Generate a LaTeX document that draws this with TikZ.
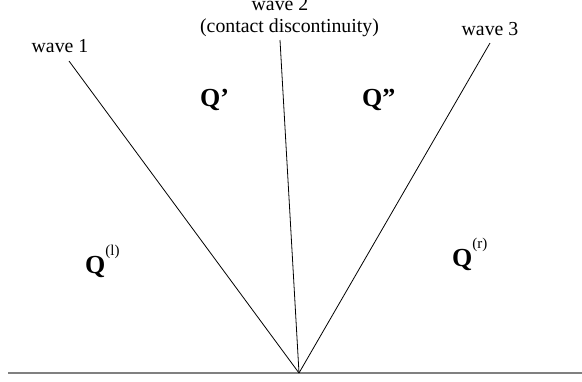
\documentclass[tikz,border=0pt]{standalone}
\usepackage{fontspec}
\setmainfont{Liberation Serif}
\begin{document}
\begin{tikzpicture}[x=1pt,y=-1pt,
  wave/.style={line width=0.8pt,black},
  lbl/.style={inner sep=0pt,anchor=base,font=\fontsize{19.8}{22}\selectfont},
  state/.style={inner sep=0pt,anchor=base west,font=\fontsize{26}{30}\selectfont\bfseries}]
\useasboundingbox (0,0) rectangle (582,381);
\coordinate (o) at (299,373);
\coordinate (b0) at (8,373);
\coordinate (b1) at (582,373);
\coordinate (w1) at (69,61);
\coordinate (w2) at (280,40);
\coordinate (w3) at (490,43);
\draw[gray,line width=1.2pt] (b0) -- (b1);
\draw[wave] (o) -- (w1);
\draw[wave] (o) -- (w2);
\draw[wave] (o) -- (w3);
\node[lbl] (l1) at (60,52) {wave 1};
\node[lbl] (l2a) at (280,10) {wave 2};
\node[lbl] (l2b) at (289.5,32) {(contact discontinuity)};
\node[lbl] (l3) at (490,35) {wave 3};
\node[state] (q1) at (200,106) {Q’};
\node[state] (q2) at (362,106) {Q”};
\node[state] (ql) at (85,273) {Q\raisebox{18pt}{\fontsize{15}{15}\selectfont\mdseries(l)}};
\node[state] (qr) at (452,266) {Q\raisebox{18pt}{\fontsize{15}{15}\selectfont\mdseries(r)}};
\end{tikzpicture}
\end{document}
